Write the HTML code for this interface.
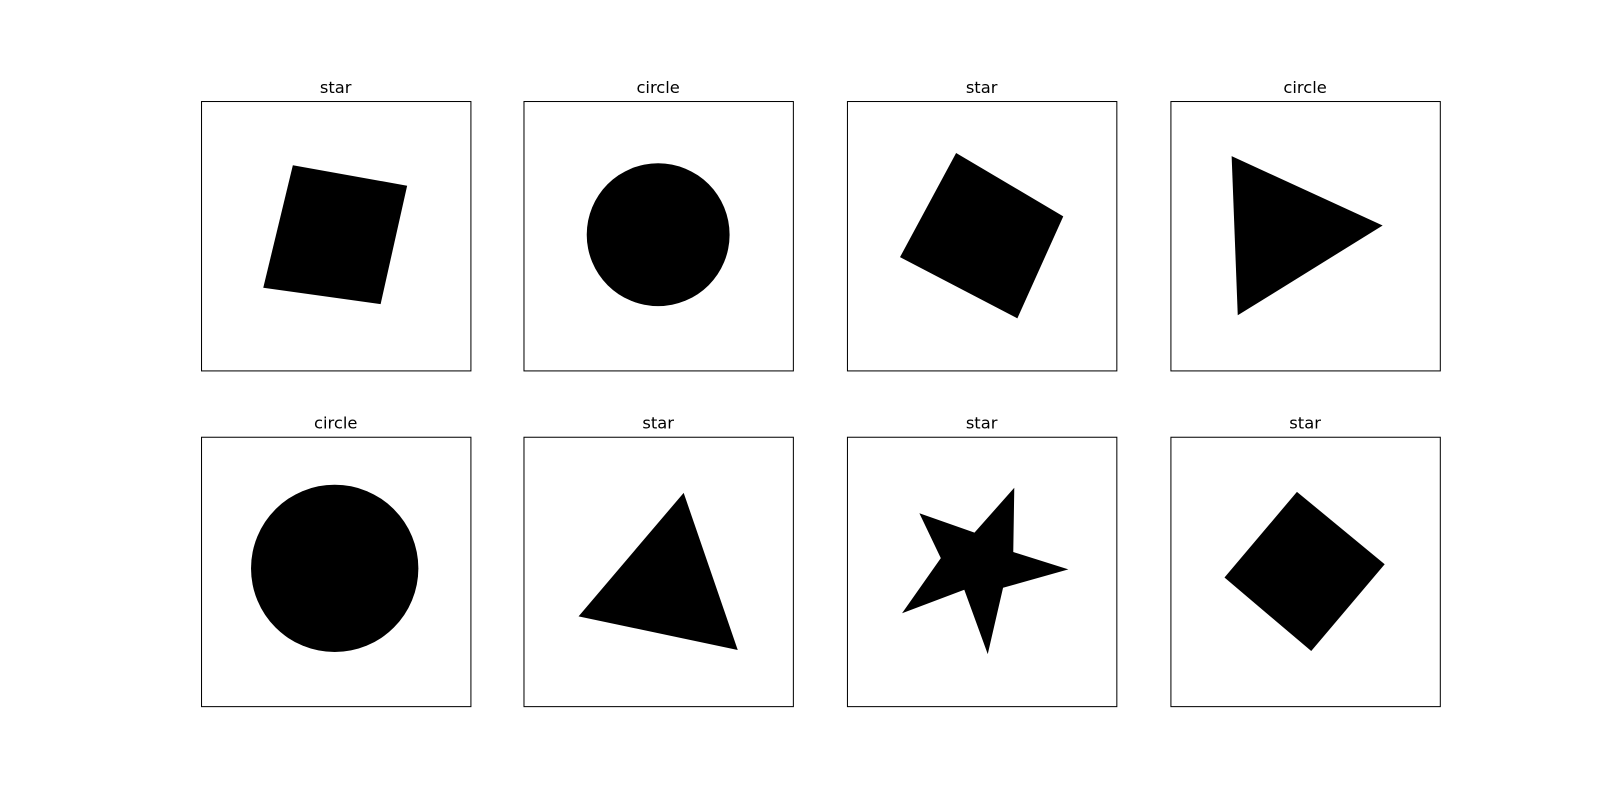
<!DOCTYPE html>
<html><head><meta charset="utf-8"><style>
html,body{margin:0;padding:0;background:#fff;width:1600px;height:800px;overflow:hidden}
svg{display:block}
</style></head><body>
<svg id="chart" width="1600" height="800" viewBox="0 0 1568 784" xmlns="http://www.w3.org/2000/svg"></svg>
<script>
const titles = ["star","circle","star","circle","circle","star","star","star"];
const panelX = [197,513,830,1147];
const panelY = [99,428];
const shapeKinds = ["poly","circle","poly","poly","circle","poly","poly","poly"];
const shapePoints = [
  [[90,63],[202,83],[176,199],[61,183]],
  [],
  [[107,51],[212,113],[167,213],[52,153]],
  [[60,54],[208,122],[66,210]],
  [],
  [[157,55],[210,209],[54,176]],
  [[164,50],[163,113],[217,130],[153,148],[138,213],[115,150],[54,173],[92,119],[71,75],[125,94]],
  [[124,54],[210,125],[138,210],[53,138]]
];
const circleParams = [[],[132,131,70],[],[],[131,129,82],[],[],[]];
const NS="http://www.w3.org/2000/svg";
const svg=document.getElementById('chart');
const size=264;
titles.forEach((t,i)=>{
  const x=panelX[i%4], y=panelY[Math.floor(i/4)];
  const g=document.createElementNS(NS,'g');
  
  
  const r=document.createElementNS(NS,'rect');
  r.setAttribute('x',x+0.5);r.setAttribute('y',y+0.5);r.setAttribute('width',size);r.setAttribute('height',size);
  r.setAttribute('fill','#fff');r.setAttribute('stroke','#000');r.setAttribute('stroke-width','1');
  
  
  g.appendChild(r);
  let s;
  if(shapeKinds[i]==='circle'){
    const c=circleParams[i];
    s=document.createElementNS(NS,'circle');
    s.setAttribute('cx',x+c[0]);s.setAttribute('cy',y+c[1]);s.setAttribute('r',c[2]);
  } else {
    s=document.createElementNS(NS,'polygon');
    s.setAttribute('points',shapePoints[i].map(p=>(x+p[0])+','+(y+p[1])).join(' '));
  }
  s.setAttribute('fill','#000');
  
  
  g.appendChild(s);
  const tx=document.createElementNS(NS,'text');
  tx.setAttribute('x',x+size/2);tx.setAttribute('y',y-8);
  tx.setAttribute('text-anchor','middle');
  tx.setAttribute('font-family','"DejaVu Sans","Liberation Sans",sans-serif');
  tx.setAttribute('font-size','16');
  tx.textContent=t;
  
  
  g.appendChild(tx);
  svg.appendChild(g);
});
</script>
</body></html>
